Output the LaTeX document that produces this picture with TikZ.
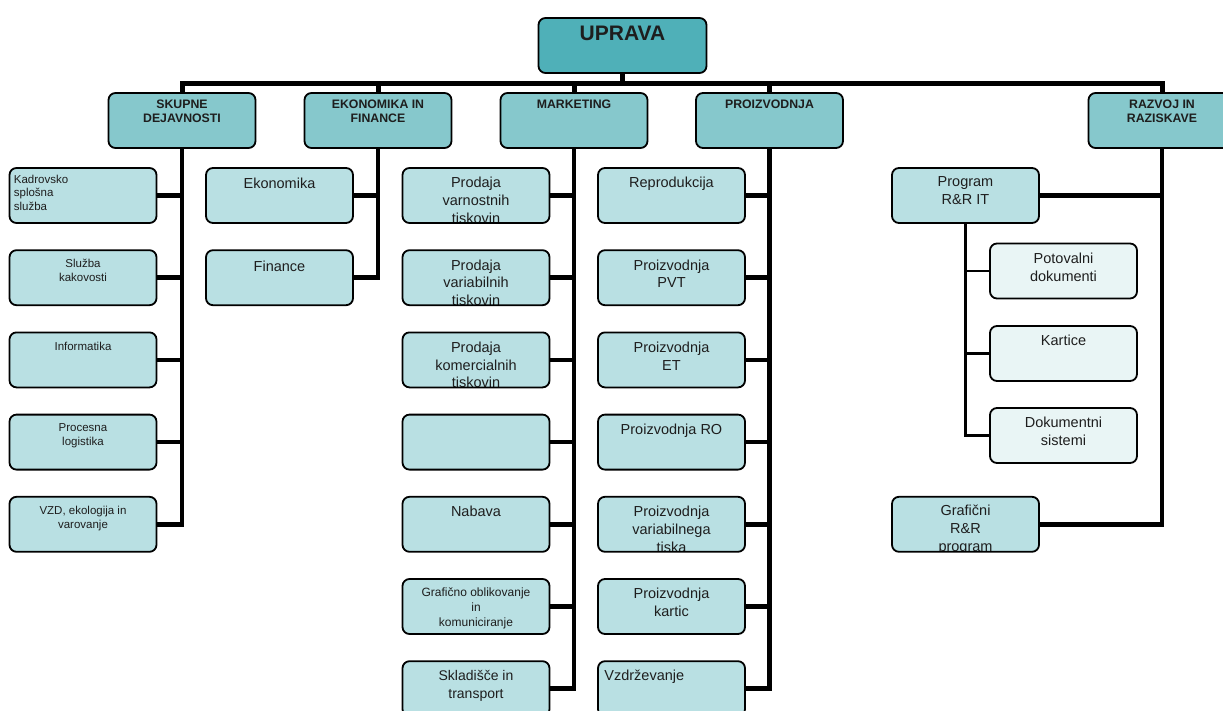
\documentclass[tikz,border=0pt]{standalone}
\usepackage{fontspec}
\setmainfont{Liberation Sans}
\usetikzlibrary{backgrounds}
\definecolor{topfill}{RGB}{79,176,184}
\definecolor{lonefill}{RGB}{134,200,204}
\definecolor{cfill}{RGB}{185,224,227}
\definecolor{sfill}{RGB}{233,245,245}
\definecolor{txtcol}{RGB}{30,30,30}
\begin{document}
\begin{tikzpicture}[x=1pt,y=-1pt,
  bx/.style={draw=black, line width=1.8pt, rounded corners=7pt, minimum width=147pt, minimum height=55pt, inner sep=0pt, fill=cfill},
  hbx/.style={bx, fill=lonefill},
  sbx/.style={bx, fill=sfill},
  ubx/.style={bx, fill=topfill, minimum width=168pt},
  fA/.style={font=\fontsize{11.5}{13.5}\selectfont},
  fB/.style={font=\fontsize{14.5}{17.8}\selectfont},
  fC/.style={font=\fontsize{12}{15}\selectfont},
  fH/.style={font=\bfseries\fontsize{12.3}{14}\selectfont},
  fU/.style={font=\bfseries\fontsize{21}{24}\selectfont},
  plain/.style={draw=none, fill=none, minimum width=0pt, minimum height=0pt, inner sep=0pt, sharp corners, text=txtcol},
  lab/.style 2 args={path picture={\node[plain, anchor=north, align=center, yshift=-8.5pt, #1] at (path picture bounding box.north) {#2};}},
  labL/.style 2 args={path picture={\node[plain, anchor=north west, align=left, xshift=3.5pt, yshift=-6pt, #1] at (path picture bounding box.north west) {#2};}},
  bus/.style={line width=5pt, draw=black, line join=miter},
  conn/.style={line width=4.5pt, draw=black, line join=miter},
  sconn/.style={line width=2.5pt, draw=black, line join=miter}
]
\useasboundingbox (0,0) rectangle (1223,711);

% top
\node[ubx, lab={fU,yshift=1pt}{UPRAVA}] (upr) at (622.5,45.5) {};

% level 1
\node[hbx, lab={fH,yshift=2.5pt}{SKUPNE\\DEJAVNOSTI}] (sk) at (182,120.5) {};
\node[hbx, lab={fH,yshift=2.5pt}{EKONOMIKA IN\\FINANCE}] (ek) at (378,120.5) {};
\node[hbx, lab={fH,yshift=2.5pt}{MARKETING}] (mk) at (574,120.5) {};
\node[hbx, lab={fH,yshift=2.5pt}{PROIZVODNJA}] (pr) at (769.5,120.5) {};
\node[hbx, lab={fH,yshift=2.5pt}{RAZVOJ IN\\RAZISKAVE}] (rz) at (1162,120.5) {};

% SKUPNE DEJAVNOSTI children
\node[bx, labL={fA}{Kadrovsko\\splošna\\služba}] (sk1) at (83,195.5) {};
\node[bx, lab={fA}{Služba\\kakovosti}] (sk2) at (83,277.7) {};
\node[bx, lab={fA}{Informatika}] (sk3) at (83,359.9) {};
\node[bx, lab={fA}{Procesna\\logistika}] (sk4) at (83,442.1) {};
\node[bx, lab={fA}{VZD, ekologija in\\varovanje}] (sk5) at (83,524.3) {};

% EKONOMIKA children
\node[bx, lab={fB,yshift=-1pt}{Ekonomika}] (ek1) at (279.5,195.5) {};
\node[bx, lab={fB,yshift=-1pt}{Finance}] (ek2) at (279.5,277.7) {};

% MARKETING children
\node[bx, lab={fB}{Prodaja\\varnostnih\\tiskovin}] (mk1) at (476,195.5) {};
\node[bx, lab={fB}{Prodaja\\variabilnih\\tiskovin}] (mk2) at (476,277.7) {};
\node[bx, lab={fB}{Prodaja\\komercialnih\\tiskovin}] (mk3) at (476,359.9) {};
\node[bx] (mk4) at (476,442.1) {};
\node[bx, lab={fB}{Nabava}] (mk5) at (476,524.3) {};
\node[bx, lab={fC,yshift=1pt}{Grafično oblikovanje\\in\\komuniciranje}] (mk6) at (476,606.5) {};
\node[bx, lab={fB,font=\fontsize{14}{17.5}\selectfont}{Skladišče in\\transport}] (mk7) at (476,688.7) {};

% PROIZVODNJA children
\node[bx, lab={fB}{Reprodukcija}] (pr1) at (671.5,195.5) {};
\node[bx, lab={fB}{Proizvodnja\\PVT}] (pr2) at (671.5,277.7) {};
\node[bx, lab={fB}{Proizvodnja\\ET}] (pr3) at (671.5,359.9) {};
\node[bx, lab={fB}{Proizvodnja RO}] (pr4) at (671.5,442.1) {};
\node[bx, lab={fB}{Proizvodnja\\variabilnega\\tiska}] (pr5) at (671.5,524.3) {};
\node[bx, lab={fB}{Proizvodnja\\kartic}] (pr6) at (671.5,606.5) {};
\node[bx, labL={fB,xshift=2pt,yshift=-2pt}{Vzdrževanje}] (pr7) at (671.5,688.7) {};

% RAZVOJ children
\node[bx, lab={fB,yshift=1pt}{Program\\R\&R IT}] (rz1) at (965.5,195.5) {};
\node[bx, lab={fB,yshift=1pt}{Grafični\\R\&R\\program}] (rz2) at (965.5,524.3) {};
\node[sbx, lab={fB}{Potovalni\\dokumenti}] (rs1) at (1063.5,271) {};
\node[sbx, lab={fB}{Kartice}] (rs2) at (1063.5,353.5) {};
\node[sbx, lab={fB}{Dokumentni\\sistemi}] (rs3) at (1063.5,435.5) {};

\begin{pgfonlayer}{background}
  \coordinate (bus) at ([yshift=-10pt]upr.south);
  \draw[bus] (upr.south) -- (bus);
  \draw[bus] (sk.north) |- (bus) -| (rz.north);
  \draw[bus] (ek.north) -- (ek.north |- bus);
  \draw[bus] (mk.north) -- (mk.north |- bus);
  \draw[bus] (pr.north) -- (pr.north |- bus);

  \draw[conn] (sk.south) |- (sk5.east);
  \foreach \i in {1,...,4} \draw[conn] (sk\i.east) -- (sk\i.east -| sk.south);

  \draw[conn] (ek.south) |- (ek2.east);
  \draw[conn] (ek1.east) -- (ek1.east -| ek.south);

  \draw[conn] (mk.south) |- (mk7.east);
  \foreach \i in {1,...,6} \draw[conn] (mk\i.east) -- (mk\i.east -| mk.south);

  \draw[conn] (pr.south) |- (pr7.east);
  \foreach \i in {1,...,6} \draw[conn] (pr\i.east) -- (pr\i.east -| pr.south);

  \draw[conn] (rz.south) |- (rz2.east);
  \draw[conn] (rz1.east) -- (rz1.east -| rz.south);

  \draw[sconn] (rz1.south) |- (rs3.west);
  \foreach \i in {1,2} \draw[sconn] (rs\i.west) -- (rs\i.west -| rz1.south);
\end{pgfonlayer}
\end{tikzpicture}
\end{document}
